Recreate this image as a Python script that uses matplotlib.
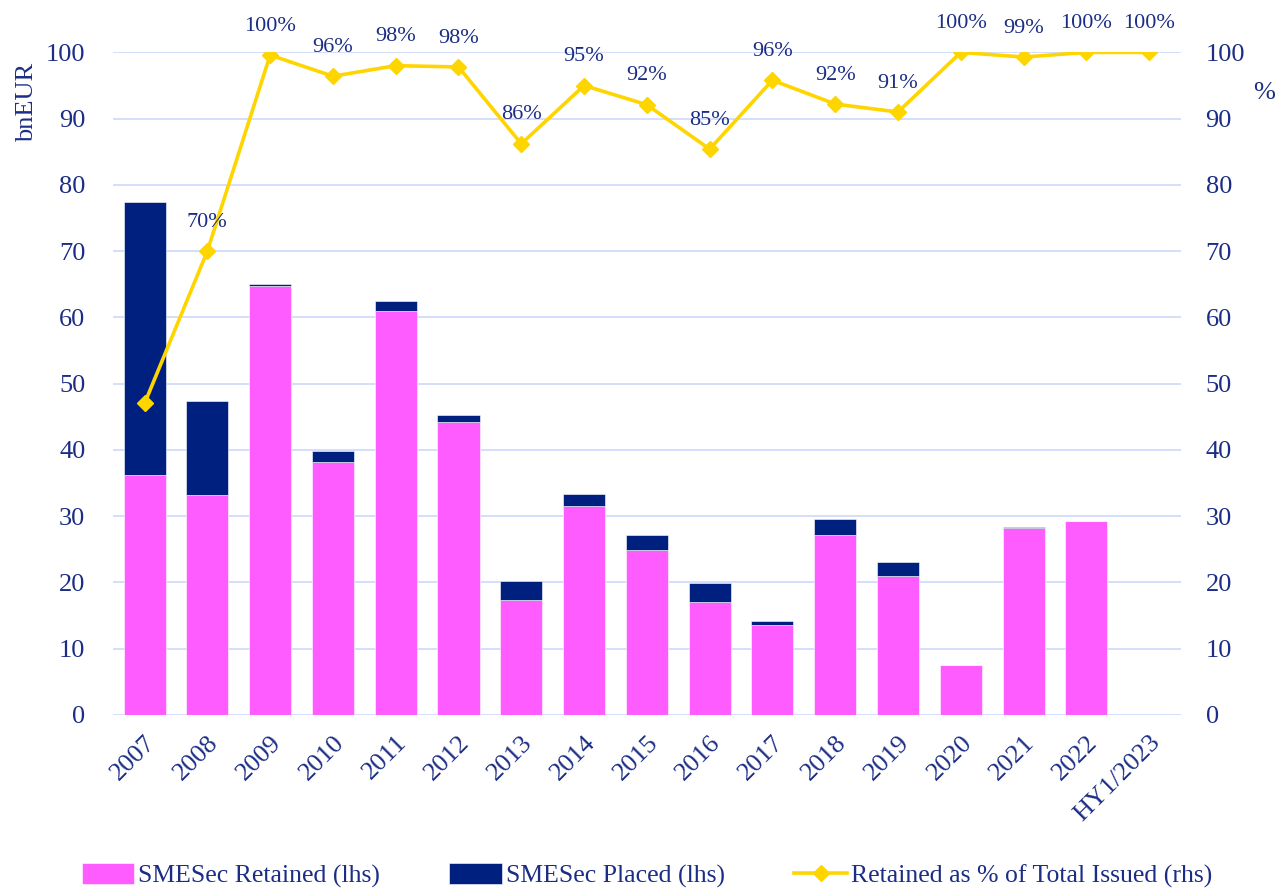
import matplotlib.pyplot as plt
import numpy as np

plt.rcParams['font.family'] = ['Liberation Serif', 'DejaVu Serif']

years = ['2007', '2008', '2009', '2010', '2011', '2012', '2013', '2014', '2015',
         '2016', '2017', '2018', '2019', '2020', '2021', '2022', 'HY1/2023']
retained = [36.2, 33.2, 64.7, 38.2, 61.0, 44.2, 17.4, 31.6, 24.9,
            17.0, 13.5, 27.2, 20.9, 7.5, 28.2, 29.3, 0.0]
placed = [41.2, 14.2, 0.3, 1.6, 1.4, 1.0, 2.8, 1.7, 2.2,
          2.9, 0.6, 2.3, 2.1, 0.0, 0.2, 0.0, 0.0]
pct = [47, 70, 99.6, 96.4, 98.0, 97.8, 86.2, 95.0, 92.1,
       85.4, 95.8, 92.2, 91.0, 100, 99.3, 100, 100]
pct_labels = ['', '70%', '100%', '96%', '98%', '98%', '86%', '95%', '92%',
              '85%', '96%', '92%', '91%', '100%', '99%', '100%', '100%']

PINK = '#FF5CFF'
NAVY = '#00207F'
YELLOW = '#FFD500'
TXT = '#1B2D85'
GRID = '#C9D4FB'

fig = plt.figure(figsize=(12.86, 8.88), dpi=100)
ax = fig.add_axes([0.088, 0.195, 0.83, 0.746])
x = np.arange(len(years))

ax.bar(x, retained, width=0.67, color=PINK, edgecolor='white', linewidth=0.4,
       label='SMESec Retained (lhs)')
ax.bar(x, placed, width=0.67, bottom=retained, color=NAVY, edgecolor='white',
       linewidth=0.4, label='SMESec Placed (lhs)')

ax.set_ylim(0, 100)
ax.set_xlim(-0.5, 16.5)
ax.set_yticks(range(0, 101, 10))
ax.yaxis.grid(True, color=GRID, linewidth=1.1)
ax.set_axisbelow(True)
for s in ax.spines.values():
    s.set_visible(False)
ax.tick_params(length=0, colors=TXT, labelsize=19)
ax.tick_params(axis='y', pad=20)
ax.set_xticks(x)
ax.set_xticklabels(years, rotation=45, ha='right', rotation_mode='anchor')
ax.tick_params(axis='x', pad=12)

ax2 = ax.twinx()
ax2.plot(x, pct, color=YELLOW, linewidth=2.6, marker='D', markersize=8,
         label='Retained as % of Total Issued (rhs)')
ax2.set_ylim(0, 100)
ax2.set_yticks(range(0, 101, 10))
for s in ax2.spines.values():
    s.set_visible(False)
ax2.tick_params(length=0, colors=TXT, labelsize=19, pad=18)

for xi, v, t in zip(x, pct, pct_labels):
    if t:
        ax2.annotate(t, (xi, v), xytext=(0, 14), textcoords='offset points',
                     ha='center', va='bottom', color=TXT, fontsize=16)

fig.text(0.021, 0.885, 'bnEUR', rotation=90, color=TXT, fontsize=19,
         ha='center', va='center')
fig.text(0.983, 0.895, '%', color=TXT, fontsize=19, ha='center', va='center')

h1, l1 = ax.get_legend_handles_labels()
h2, l2 = ax2.get_legend_handles_labels()
fig.legend(h1 + h2, l1 + l2, loc='center', bbox_to_anchor=(0.503, 0.014),
           ncol=3, frameon=False, fontsize=18.5, labelcolor=TXT,
           handlelength=2.05, handleheight=0.85, handletextpad=0.15,
           columnspacing=2.7)

fig.savefig('out.png', dpi=100)
